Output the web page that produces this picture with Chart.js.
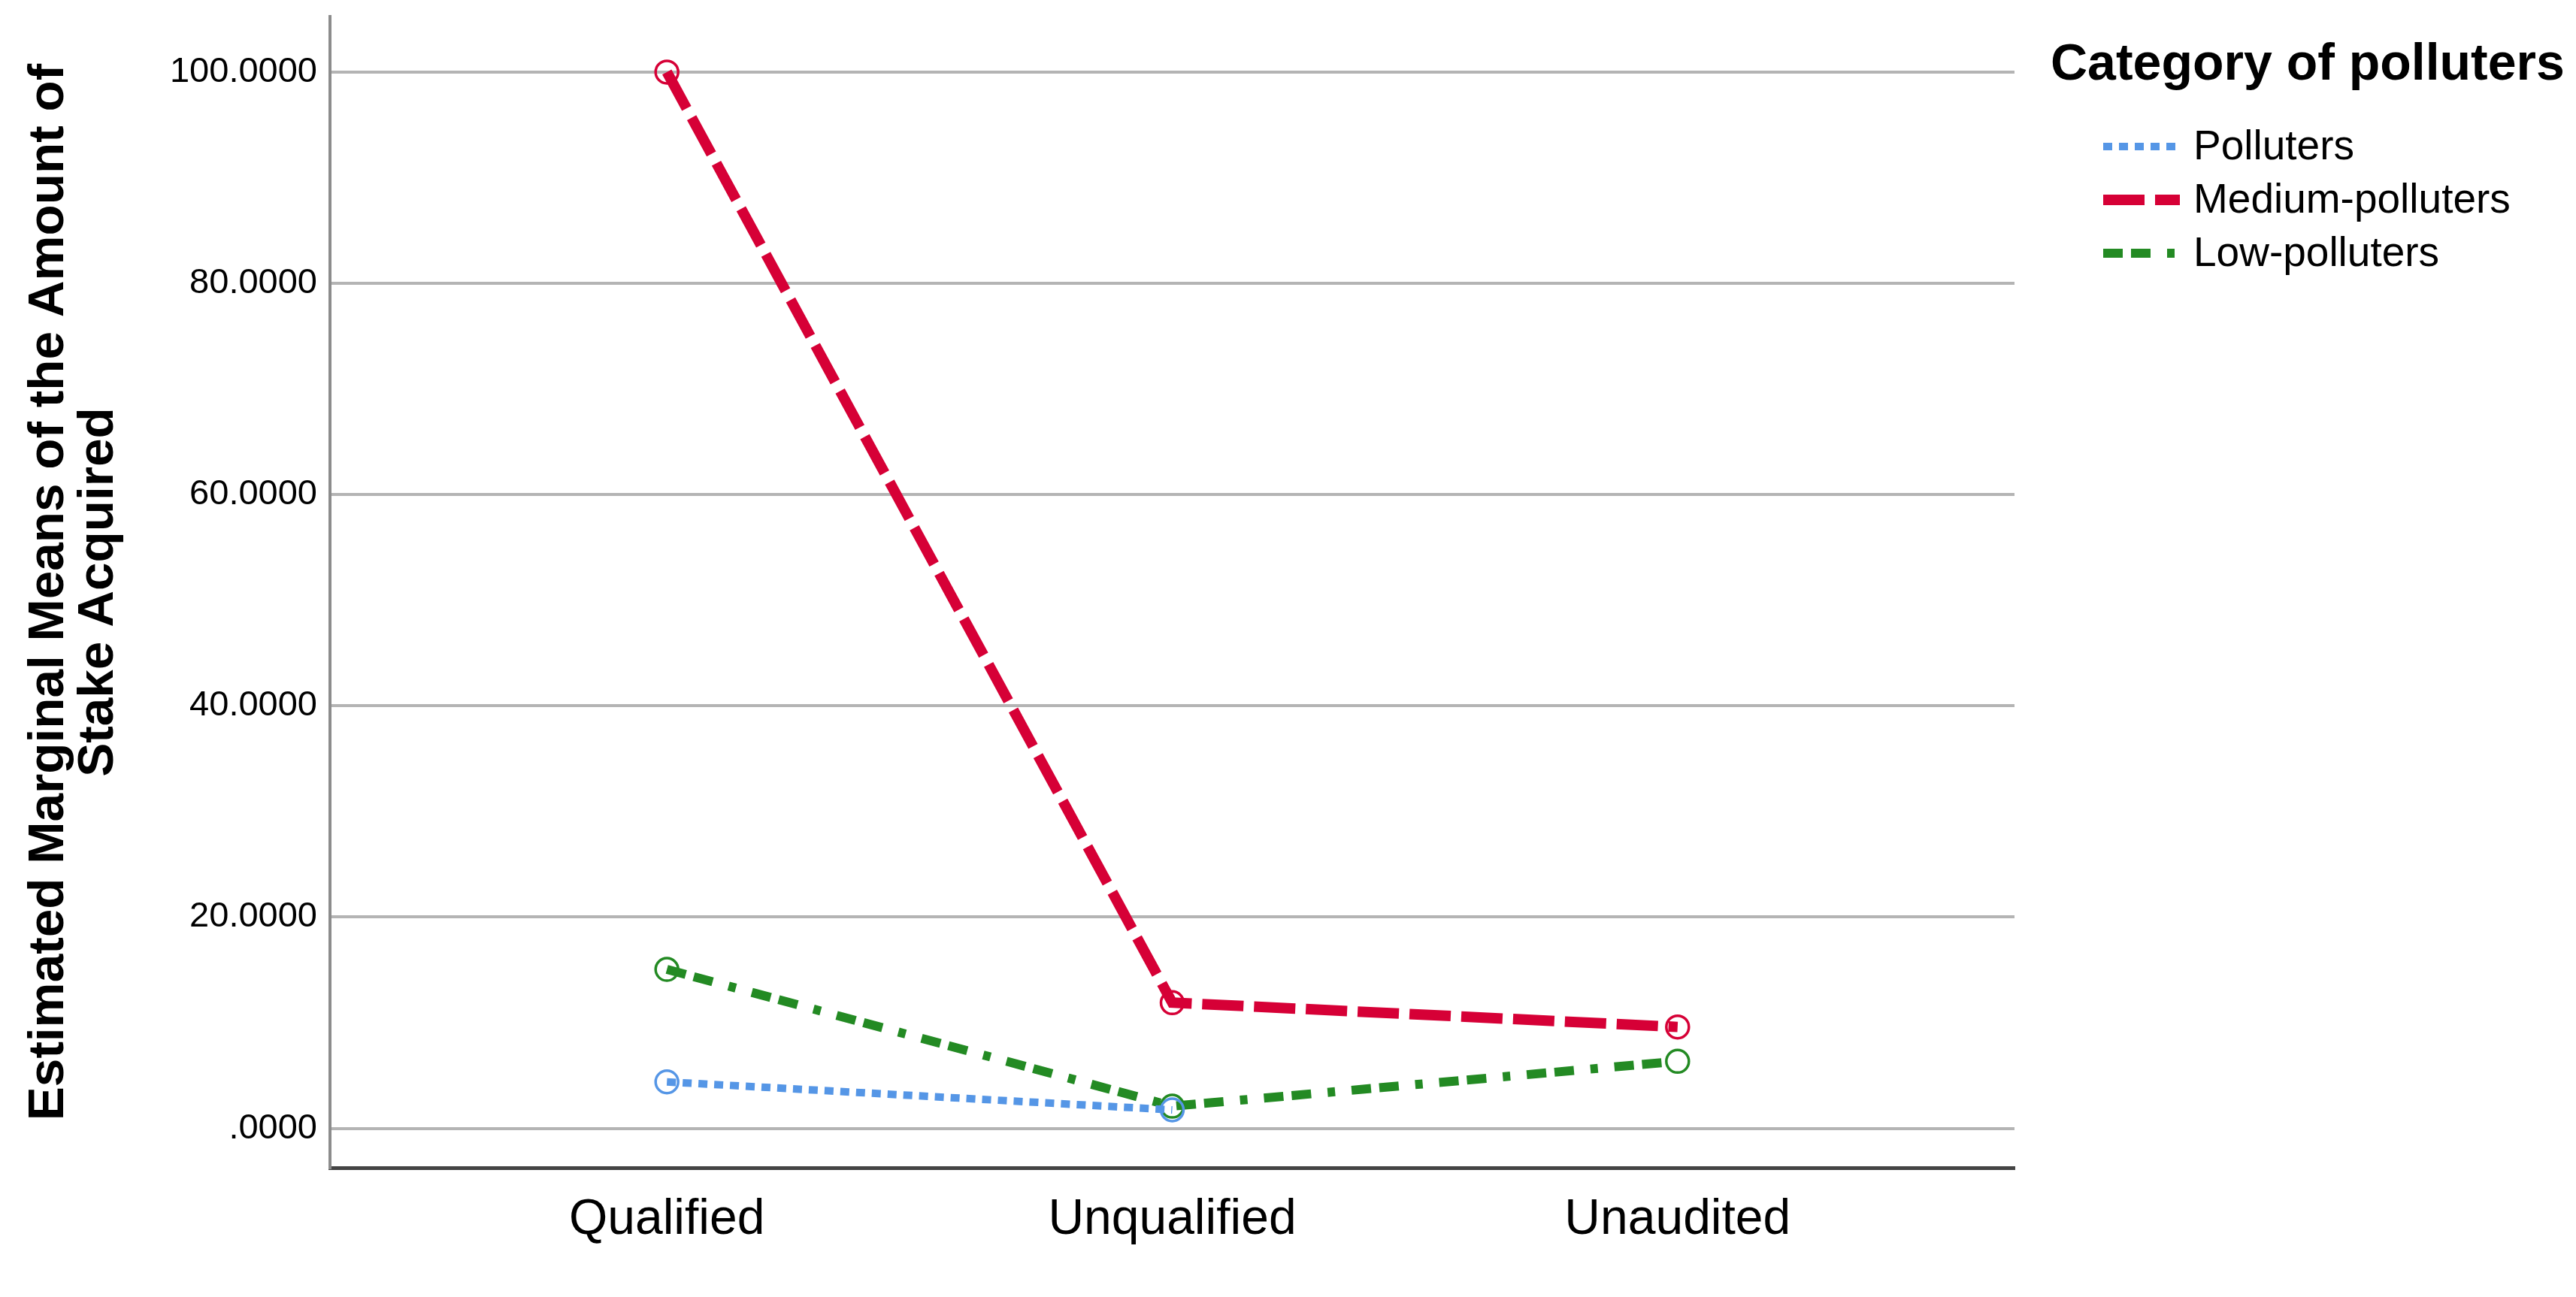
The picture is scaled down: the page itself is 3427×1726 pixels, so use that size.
<!DOCTYPE html>
<html><head><meta charset="utf-8">
<script src="https://cdn.jsdelivr.net/npm/chart.js@4"></script>
<style>html,body{margin:0;padding:0;background:#fff;overflow:hidden}canvas{display:block}</style>
</head><body>
<canvas id="c" width="3427" height="1726"></canvas>
<script>
const categories = ['Qualified', 'Unqualified', 'Unaudited'];
const seriesNames = ['Polluters', 'Medium-polluters', 'Low-polluters'];
const polluters = [4.4, 1.75, null];
const mediumPolluters = [100.0, 11.9, 9.6];
const lowPolluters = [15.05, 2.1, 6.35];
const yTicks = [0, 20, 40, 60, 80, 100];
const yTickLabels = ['.0000', '20.0000', '40.0000', '60.0000', '80.0000', '100.0000'];
const yAxisTitle = ['Estimated Marginal Means of the Amount of', 'Stake Acquired'];
const legendTitle = 'Category of polluters';

const FONT = '"Liberation Sans", Arial, sans-serif';
const toPts = arr => arr.map((v, i) => ({x: i, y: v}));

function mk(label, values, color, width, dash) {
  return {
    label, data: toPts(values),
    borderColor: color, backgroundColor: 'rgba(0,0,0,0)',
    borderWidth: width, borderDash: dash, borderCapStyle: 'butt',
    pointRadius: 15, pointBorderWidth: 3.5, pointBorderColor: color,
    pointBackgroundColor: 'rgba(0,0,0,0)', pointHoverRadius: 15,
    tension: 0, spanGaps: false, fill: false
  };
}

const legendPlugin = {
  id: 'customLegend',
  afterDraw(chart) {
    const ctx = chart.ctx;
    const x0 = chart.chartArea.right + 48;
    ctx.save();
    ctx.fillStyle = '#000';
    ctx.textBaseline = 'middle';
    ctx.textAlign = 'left';
    ctx.font = 'bold 68px ' + FONT;
    ctx.fillText(legendTitle, x0, 87);
    chart.data.datasets.forEach((ds, i) => {
      const y = 195 + i * 71;
      ctx.strokeStyle = ds.borderColor;
      ctx.lineWidth = ds.borderWidth;
      ctx.lineCap = 'butt';
      ctx.setLineDash(ds.borderDash);
      ctx.beginPath();
      ctx.moveTo(x0 + 70, y);
      ctx.lineTo(x0 + 172, y);
      ctx.stroke();
      ctx.setLineDash([]);
      ctx.fillStyle = '#000';
      ctx.font = '55px ' + FONT;
      ctx.fillText(ds.label, x0 + 190, y + 2);
    });
    ctx.restore();
  }
};

new Chart(document.getElementById('c'), {
  type: 'line',
  data: {
    datasets: [
      mk(seriesNames[0], polluters, '#5596E6', 10, [12, 9]),
      mk(seriesNames[1], mediumPolluters, '#D60036', 14, [55, 14]),
      mk(seriesNames[2], lowPolluters, '#238A23', 12, [26, 11, 26, 22, 10, 22])
    ]
  },
  options: {
    responsive: false,
    devicePixelRatio: 1,
    animation: false,
    layout: {padding: {left: 0, right: 747, top: 22, bottom: 0}},
    plugins: {legend: {display: false}, tooltip: {enabled: false}},
    scales: {
      x: {
        type: 'linear', min: -2/3, max: 8/3,
        afterBuildTicks: s => { s.ticks = categories.map((c, i) => ({value: i})); },
        afterFit: s => { s.height = 172; s.paddingLeft = 0; s.paddingRight = 0; },
        grid: {display: false, drawTicks: false},
        border: {display: true, color: '#444444', width: 5},
        ticks: {
          callback: v => categories[v] ?? '',
          color: '#000', padding: 30,
          font: {family: FONT, size: 66}, maxRotation: 0, autoSkip: false
        }
      },
      y: {
        type: 'linear', min: -3.73, max: 105.26,
        afterBuildTicks: s => { s.ticks = yTicks.map(v => ({value: v})); },
        afterFit: s => { s.width = 439; s.paddingTop = 0; s.paddingBottom = 0; },
        grid: {color: '#B4B4B4', lineWidth: 4, drawTicks: false},
        border: {display: true, color: '#8C8C8C', width: 4},
        ticks: {
          callback: v => yTickLabels[yTicks.indexOf(v)] ?? '',
          color: '#000', padding: 17,
          font: {family: FONT, size: 47}
        },
        title: {
          display: true, text: yAxisTitle, color: '#000',
          font: {family: FONT, size: 67.5, weight: 'bold', lineHeight: 0.97},
          padding: {top: 33, bottom: 0}
        }
      }
    }
  },
  plugins: [legendPlugin]
});
</script>
</body></html>
